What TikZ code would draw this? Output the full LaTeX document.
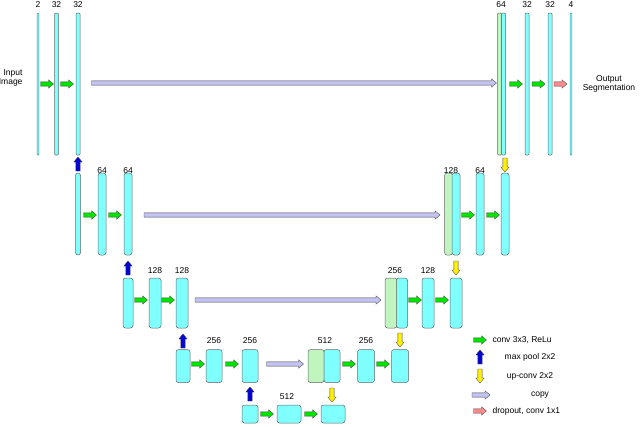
\documentclass[tikz,border=0pt]{standalone}
\usepackage{fontspec}
\setmainfont{Liberation Sans}
\definecolor{cy}{HTML}{80FFFF}
\definecolor{gr}{HTML}{C0F5C0}
\definecolor{dk}{HTML}{4A9A9A}
\definecolor{cp}{HTML}{C4C4F4}
\newcommand{\ublk}[6]{\node[blk,#6,minimum width=#4pt,minimum height=#5pt] (#1) at (#2,#3) {};}
% \farr{name}{x}{y}{length}{angle}{style}
\newcommand{\farr}[6]{\begin{scope}[shift={(#2,#3)},rotate=#5]
 \filldraw[#6,draw=gray!55!black,line width=0.35pt] (-#4/2,-2.1) -- (#4/2-5,-2.1) -- (#4/2-5,-4.2) -- (#4/2,0) -- (#4/2-5,4.2) -- (#4/2-5,2.1) -- (-#4/2,2.1) -- cycle;
 \coordinate (#1) at (0,0);\end{scope}}
\begin{document}
\begin{tikzpicture}[x=1pt,y=-1pt,font=\fontsize{8.5}{9.5}\selectfont,
 blk/.style={draw=gray!80!black,line width=0.5pt,rounded corners=2.5pt,fill=cy,inner sep=0},
 thin/.style={rounded corners=1pt},
 conv/.style={fill=green!90!black},
 pool/.style={fill=blue!85!black},
 up/.style={fill=yellow},
 drop/.style={fill=red!45},
 copy/.style={fill=cp}]
\useasboundingbox (0,0) rectangle (640,426);
% level 1
\ublk{a1}{38}{84}{1.8}{142}{fill=cy,draw=dk,thin}
\ublk{a2}{56.5}{84}{4}{142}{thin}
\ublk{a3}{78}{84}{4}{142}{thin}
\ublk{b1g}{499.5}{84}{4}{142}{fill=gr,thin}
\ublk{b1}{503.5}{84}{4}{142}{thin}
\ublk{b2}{527}{84}{4}{142}{thin}
\ublk{b3}{550}{84}{4}{142}{thin}
\ublk{b4}{571}{84}{1.8}{142}{fill=cy,draw=dk,thin}
\node (t1) at (38,5) {2}; \node (t2) at (56.5,5) {32}; \node (t3) at (78,5) {32};
\node (t4) at (501,5) {64}; \node (t5) at (527,5) {32}; \node (t6) at (550,5) {32}; \node (t7) at (571,5) {4};
\node[align=right,anchor=east] (in) at (26,78) {Input\\Image};
\node[align=center] (out) at (609,84) {Output\\Segmentation};
\farr{c1}{47}{84}{13}{0}{conv} \farr{c2}{67}{84}{13}{0}{conv}
\farr{c3}{516}{84}{13}{0}{conv} \farr{c4}{538.5}{84}{13}{0}{conv}
\farr{d1}{560.5}{84}{13}{0}{drop}
\farr{p1}{294}{83}{405}{0}{copy}
% level 2
\ublk{e1}{78}{214}{5}{82}{}
\ublk{e2}{102}{214}{8}{82}{}
\ublk{e3}{128}{214}{8}{82}{}
\ublk{f1g}{448.5}{214}{8}{82}{fill=gr}
\ublk{f1}{456}{214}{8}{82}{}
\ublk{f2}{480}{214}{8}{82}{}
\ublk{f3}{505}{214}{8}{82}{}
\node (u1) at (102,171) {64}; \node (u2) at (128,171) {64};
\node (u3) at (451,171) {128}; \node (u4) at (480,171) {64};
\farr{m1}{78}{164}{14}{90}{pool} \farr{v1}{505}{165}{14}{-90}{up}
\farr{c5}{90}{215}{13}{0}{conv} \farr{c6}{115}{215}{13}{0}{conv}
\farr{c7}{468}{215}{13}{0}{conv} \farr{c8}{493}{215}{13}{0}{conv}
\farr{p2}{292}{215}{296}{0}{copy}
% level 3
\ublk{g1}{128}{303}{10}{50}{}
\ublk{g2}{155}{303}{12}{50}{}
\ublk{g3}{182}{303}{12}{50}{}
\ublk{h1g}{391}{303}{12}{50}{fill=gr}
\ublk{h1}{402}{303}{11}{50}{}
\ublk{h2}{428}{303}{12}{50}{}
\ublk{h3}{456}{303}{12}{50}{}
\node (w1) at (155,271) {128}; \node (w2) at (182,271) {128};
\node (w3) at (395,271) {256}; \node (w4) at (428,271) {128};
\farr{m2}{128}{268}{14}{90}{pool} \farr{v2}{456}{268}{14}{-90}{up}
\farr{c9}{141}{300}{13}{0}{conv} \farr{c10}{168}{300}{13}{0}{conv}
\farr{c11}{415}{300}{13}{0}{conv} \farr{c12}{442}{300}{13}{0}{conv}
\farr{p3}{288}{300}{186}{0}{copy}
% level 4
\ublk{k1}{183}{366}{14}{33}{}
\ublk{k2}{214}{366}{16}{33}{}
\ublk{k3}{250}{366}{16}{33}{}
\ublk{l1g}{316}{366}{16}{33}{fill=gr}
\ublk{l1}{332}{366}{16}{33}{}
\ublk{l2}{366}{366}{17}{33}{}
\ublk{l3}{400}{366}{17}{33}{}
\node (x1) at (214,341) {256}; \node (x2) at (250,341) {256};
\node (x3) at (325,341) {512}; \node (x4) at (366,341) {256};
\farr{m3}{183}{341}{14}{90}{pool} \farr{v3}{400}{340}{14}{-90}{up}
\farr{c13}{198}{364}{13}{0}{conv} \farr{c14}{232}{364}{13}{0}{conv}
\farr{c15}{349}{364}{13}{0}{conv} \farr{c16}{383}{364}{13}{0}{conv}
\farr{p4}{285}{364}{37}{0}{copy}
% level 5
\ublk{n1}{250}{414}{16}{18}{}
\ublk{n2}{289}{414}{24}{18}{}
\ublk{n3}{333}{414}{24}{18}{}
\node (y1) at (287,397) {512};
\farr{m4}{250}{394}{14}{90}{pool} \farr{v4}{332}{395}{14}{-90}{up}
\farr{c17}{267}{414}{13}{0}{conv} \farr{c18}{311}{414}{13}{0}{conv}
% legend
\farr{lg1}{480}{340}{13}{0}{conv} \node[anchor=west] (lt1) at (489,340) {conv 3x3, ReLu};
\farr{lg2}{480}{357}{14}{90}{pool} \node (lt2) at (530,357) {max pool 2x2};
\farr{lg3}{480}{376}{14}{-90}{up} \node (lt3) at (530,376) {up-conv 2x2};
\farr{lg4}{481}{395}{18}{0}{copy} \node (lt4) at (540,395) {copy};
\farr{lg5}{480}{411}{13}{0}{drop} \node[anchor=west] (lt5) at (489,411) {dropout, conv 1x1};
\end{tikzpicture}
\end{document}
